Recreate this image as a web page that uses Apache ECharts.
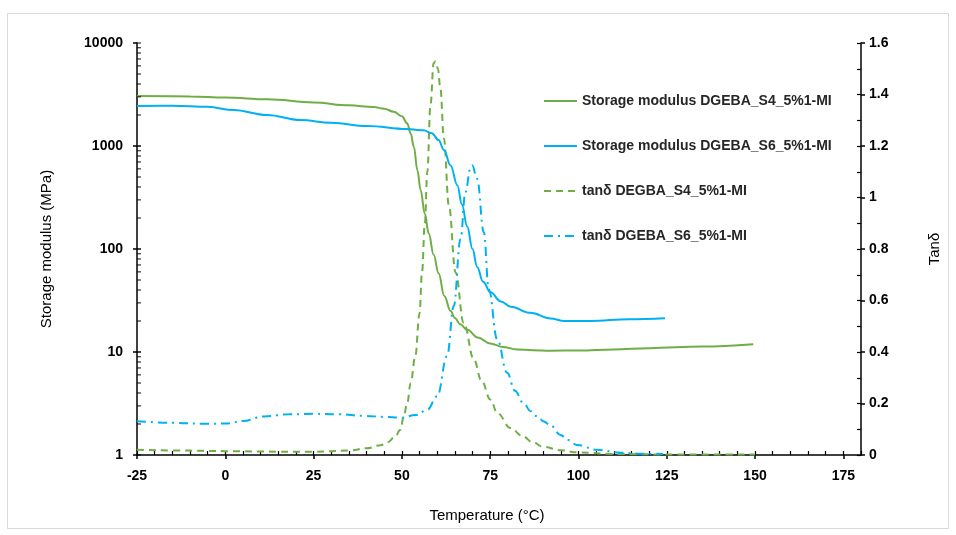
<!DOCTYPE html>
<html><head><meta charset="utf-8">
<script src="https://cdn.jsdelivr.net/npm/echarts@6/dist/echarts.min.js"></script>
<style>html,body{margin:0;padding:0;background:#fff}#c{width:956px;height:535px}</style>
</head><body><div id="c"></div>
<script>
// ---- Data ----
const seriesNames = [
  'Storage modulus DGEBA_S4_5%1-MI',
  'Storage modulus DGEBA_S6_5%1-MI',
  'tanδ DEGBA_S4_5%1-MI',
  'tanδ DGEBA_S6_5%1-MI'
];

// Storage modulus S4 (MPa)
const tempS4E = [-25, -10, 0, 12, 25, 35, 42, 45, 47.7, 50, 51.5, 52.5, 53.4, 54.4, 55.3, 56.5, 57.6, 59, 60.4, 62, 63.8, 65, 66.5, 68.5, 71.5, 75, 78.5, 82.6, 87, 92, 100, 110, 120, 135, 149.5];
const modS4E  = [3050, 3030, 2950, 2840, 2650, 2480, 2390, 2300, 2150, 1950, 1660, 1320, 980, 580, 373, 220, 142, 88, 58, 35, 25, 21.4, 18.6, 16.4, 13.8, 12.1, 11.2, 10.6, 10.4, 10.3, 10.35, 10.6, 10.9, 11.3, 11.9];

// Storage modulus S6 (MPa)
const tempS6E = [-25, -15, -5, 2.3, 11.8, 21.3, 30, 40.2, 51.5, 56.2, 58.5, 60.4, 61.9, 63.8, 65.7, 67, 68.5, 70, 71.3, 73, 75.1, 78, 80.8, 86.4, 92.1, 96, 103.4, 114.4, 124.5];
const modS6E  = [2450, 2460, 2400, 2237, 2000, 1787, 1680, 1563, 1462, 1420, 1330, 1143, 915, 646, 417, 270, 165, 100, 67, 48, 38, 31, 27.5, 24, 21.2, 20, 20, 20.8, 21.3];

// tan delta S4
const tempS4T = [-25, -10, 0, 15, 25, 35, 40, 44, 46, 48, 49.6, 50.5, 51.5, 52.5, 53.8, 55, 55.7, 56.5, 57.2, 58.1, 59, 59.5, 60.2, 60.9, 61.9, 63.3, 65.2, 67.5, 70.4, 72.5, 75.1, 77, 80.8, 84, 87, 90, 95, 100, 110, 125, 150];
const tanS4   = [0.02, 0.017, 0.015, 0.013, 0.013, 0.017, 0.026, 0.038, 0.05, 0.07, 0.098, 0.15, 0.2, 0.28, 0.384, 0.55, 0.709, 0.9, 1.10, 1.36, 1.522, 1.528, 1.50, 1.424, 1.229, 0.969, 0.709, 0.514, 0.371, 0.29, 0.215, 0.163, 0.105, 0.075, 0.05, 0.032, 0.018, 0.01, 0.004, 0.002, 0.002];

// tan delta S6
const tempS6T = [-25, -15, -5, 0, 5, 11, 18, 25, 32, 39.4, 45, 49.8, 54, 57.2, 60, 62.8, 64.7, 66.6, 68, 69.4, 69.9, 71.3, 73.2, 74.6, 77, 79.8, 82, 84.5, 86.5, 88.3, 90.2, 92.1, 94.9, 97, 99.6, 105.3, 111.9, 118, 124];
const tanS6   = [0.131, 0.125, 0.121, 0.122, 0.132, 0.15, 0.158, 0.16, 0.158, 0.152, 0.148, 0.145, 0.155, 0.176, 0.228, 0.384, 0.579, 0.839, 1.021, 1.112, 1.125, 1.073, 0.865, 0.644, 0.449, 0.319, 0.25, 0.2, 0.17, 0.15, 0.13, 0.115, 0.078, 0.058, 0.039, 0.02, 0.009, 0.005, 0.004];

// Axis settings
const xMin = -25, xMax = 180, xMajor = 25, xMinor = 5;
const yLeftMin = 1, yLeftMax = 10000;
const yRightMin = 0, yRightMax = 1.6, yRightMajor = 0.2, yRightMinor = 0.1;

// ---- Build ----
const GREEN = '#70AD47', BLUE = '#00B0F0';
const FONT = '"Liberation Sans", Arial, sans-serif';
const zip = (a, b) => a.map((v, i) => [v, b[i]]);

// inside ticks for the log axis (2..9 and decades)
const logInsideTicks = [];
for (let d = yLeftMin; d < yLeftMax; d *= 10) {
  for (let k = 1; k <= 10; k++) logInsideTicks.push([xMin, d * k]);
}

const chart = echarts.init(document.getElementById('c'), null, {renderer: 'canvas'});
const lbl = {color: '#000', fontFamily: FONT, fontWeight: 'bold', fontSize: 14};
const axLine = {show: true, onZero: false, lineStyle: {color: '#000', width: 1.5}};

chart.setOption({
  animation: false,
  backgroundColor: '#fff',
  graphic: [{type: 'rect', shape: {x: 7.5, y: 13.5, width: 941, height: 515}, style: {fill: 'none', stroke: '#d9d9d9', lineWidth: 1}, silent: true, z: -10}],
  grid: {left: 137, right: 95, top: 43, bottom: 80, containLabel: false},
  legend: {
    data: seriesNames,
    orient: 'vertical', left: 543, top: 94, padding: 0,
    itemWidth: 33, itemHeight: 14, itemGap: 31,
    itemStyle: {opacity: 0},
    textStyle: {color: '#262626', fontFamily: FONT, fontWeight: 'bold', fontSize: 14},
    selectedMode: false
  },
  xAxis: [
    {type: 'value', min: xMin, max: xMax, interval: xMajor, position: 'bottom',
     name: 'Temperature (°C)', nameLocation: 'middle', nameGap: 53,
     nameTextStyle: {color: '#000', fontFamily: FONT, fontSize: 15, padding: [0, 24, 0, 0]},
     axisLine: axLine, axisTick: {show: true, inside: false, length: 4, lineStyle: {color: '#000', width: 1.5}},
     axisLabel: Object.assign({margin: 14, showMaxLabel: false}, lbl),
     splitLine: {show: false}},
    {type: 'value', min: xMin, max: xMax, interval: xMinor, position: 'bottom',
     axisLine: {show: false, onZero: false}, axisTick: {show: true, inside: true, length: 4, lineStyle: {color: '#000', width: 1.2}},
     axisLabel: {show: false}, splitLine: {show: false}}
  ],
  yAxis: [
    {type: 'log', logBase: 10, min: yLeftMin, max: yLeftMax, position: 'left',
     name: 'Storage modulus (MPa)', nameLocation: 'middle', nameGap: 83,
     nameTextStyle: {color: '#000', fontFamily: FONT, fontSize: 15},
     axisLine: axLine, axisTick: {show: true, inside: false, length: 4, lineStyle: {color: '#000', width: 1.5}},
     axisLabel: Object.assign({margin: 14, formatter: v => String(Math.round(v))}, lbl),
     minorTick: {show: false}, splitLine: {show: false}},
    {type: 'value', min: yRightMin, max: yRightMax, interval: yRightMajor, position: 'right',
     name: 'Tanδ', nameLocation: 'middle', nameGap: 66,
     nameTextStyle: {color: '#000', fontFamily: FONT, fontSize: 15},
     axisLine: axLine, axisTick: {show: true, inside: false, length: 4, lineStyle: {color: '#000', width: 1.5}},
     axisLabel: Object.assign({margin: 8}, lbl), splitLine: {show: false}},
    {type: 'value', min: yRightMin, max: yRightMax, interval: yRightMinor, position: 'right',
     axisLine: {show: false, onZero: false}, axisTick: {show: true, inside: true, length: 4, lineStyle: {color: '#000', width: 1.2}},
     axisLabel: {show: false}, splitLine: {show: false}}
  ],
  series: [
    {name: seriesNames[0], type: 'line', xAxisIndex: 0, yAxisIndex: 0, data: zip(tempS4E, modS4E),
     showSymbol: false, symbol: 'none', smooth: 0.4, smoothMonotone: 'x',
     lineStyle: {color: GREEN, width: 2}, itemStyle: {color: GREEN}, z: 3},
    {name: seriesNames[1], type: 'line', xAxisIndex: 0, yAxisIndex: 0, data: zip(tempS6E, modS6E),
     showSymbol: false, symbol: 'none', smooth: 0.4, smoothMonotone: 'x',
     lineStyle: {color: BLUE, width: 2}, itemStyle: {color: BLUE}, z: 3},
    {name: seriesNames[2], type: 'line', xAxisIndex: 0, yAxisIndex: 1, data: zip(tempS4T, tanS4),
     showSymbol: false, symbol: 'none', smooth: 0.4, smoothMonotone: 'x',
     lineStyle: {color: GREEN, width: 2, type: [7, 5]}, itemStyle: {color: GREEN}, z: 2},
    {name: seriesNames[3], type: 'line', xAxisIndex: 0, yAxisIndex: 1, data: zip(tempS6T, tanS6),
     showSymbol: false, symbol: 'none', smooth: 0.4, smoothMonotone: 'x',
     lineStyle: {color: BLUE, width: 2, type: [9, 5, 2, 5]}, itemStyle: {color: BLUE}, z: 2},
    {name: 'logTicks', type: 'scatter', xAxisIndex: 0, yAxisIndex: 0, data: logInsideTicks,
     symbol: 'rect', symbolSize: [4, 1.2], symbolOffset: [2, 0], silent: true, clip: false,
     itemStyle: {color: '#000'}, z: 5}
  ]
});
</script></body></html>
